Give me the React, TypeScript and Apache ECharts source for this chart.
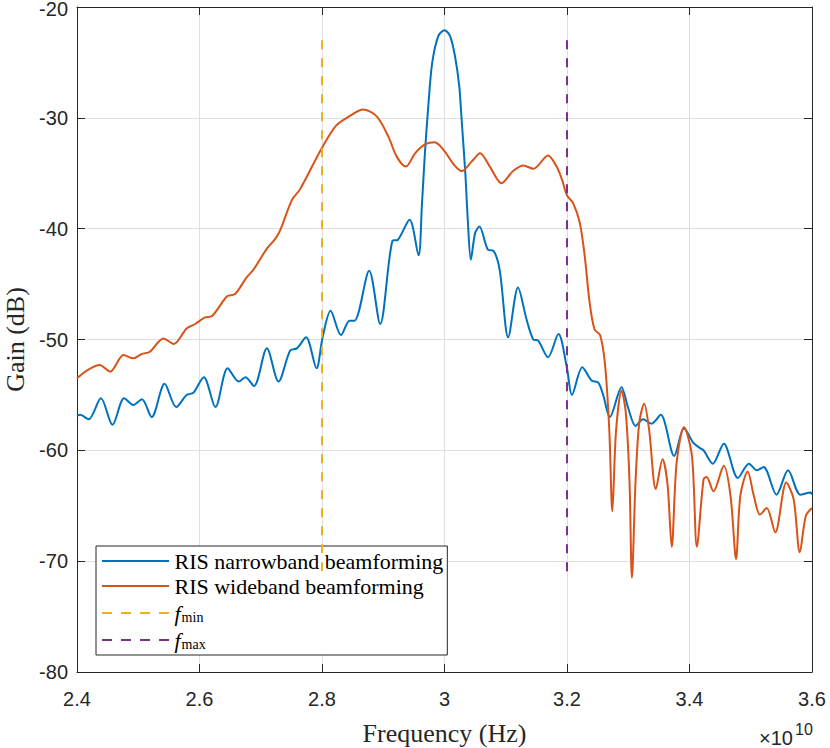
import React, { useEffect, useRef } from "react";
import * as echarts from "echarts";

// Frequencies in units of 1e9 Hz (axis shows them in units of 1e10)
const nbFreq = [
  24.0, 24.05, 24.19, 24.39, 24.58, 24.77, 24.92, 25.06, 25.22, 25.43, 25.62, 25.79, 25.9, 26.07, 26.26,
  26.46, 26.64, 26.75, 26.89, 27.1, 27.29, 27.48, 27.59, 27.74, 27.91, 28.01, 28.14, 28.31, 28.45, 28.53,
  28.77, 28.95, 29.15, 29.24, 29.43, 29.576, 29.63, 29.68, 29.74, 29.8, 29.9, 30.0, 30.09, 30.17, 30.24,
  30.28, 30.34, 30.38, 30.43, 30.5, 30.57, 30.71, 30.8, 30.9, 31.04, 31.2, 31.34, 31.45, 31.53, 31.69,
  31.86, 32.0, 32.08, 32.25, 32.4, 32.51, 32.59, 32.7, 32.89, 33.0, 33.12, 33.24, 33.38, 33.53, 33.75,
  33.91, 34.06, 34.17, 34.23, 34.38, 34.56, 34.79, 34.97, 35.1, 35.21, 35.42, 35.61, 35.81, 35.98, 36.0,
];
const nbGain = [
  -56.9, -56.8, -57.2, -55.3, -57.7, -55.3, -55.9, -55.4, -57.0, -54.0, -56.1, -55.0, -54.8, -53.4, -56.1,
  -52.6, -53.8, -53.4, -54.2, -50.8, -53.8, -51.0, -50.8, -49.8, -52.6, -49.8, -47.4, -49.6, -48.3, -48.3,
  -43.8, -48.6, -41.1, -41.0, -39.2, -42.4, -38.0, -33.2, -28.6, -25.0, -22.6, -22.1, -22.6, -24.4, -27.1,
  -30.2, -35.0, -39.2, -42.8, -40.4, -39.8, -41.9, -42.0, -43.7, -49.8, -45.3, -48.2, -50.0, -50.1, -51.6,
  -49.5, -52.6, -55.0, -52.5, -53.7, -53.9, -55.0, -57.0, -54.3, -56.2, -57.8, -57.2, -57.6, -56.8, -60.5,
  -58.0, -59.3, -59.8, -60.0, -61.2, -59.4, -62.5, -61.2, -61.8, -61.5, -64.0, -61.8, -64.0, -63.8, -64.0,
];

const wbFreq = [
  24.0, 24.16, 24.37, 24.54, 24.76, 24.92, 25.06, 25.19, 25.41, 25.58, 25.79, 25.93, 26.09, 26.2, 26.45,
  26.58, 26.77, 26.88, 27.1, 27.24, 27.32, 27.51, 27.635, 28.0, 28.23, 28.45, 28.67, 28.89, 29.08, 29.22,
  29.37, 29.52, 29.68, 29.84, 30.0, 30.15, 30.28, 30.45, 30.58, 30.74, 30.93, 31.12, 31.29, 31.45, 31.69,
  31.83, 31.92, 32.0, 32.1, 32.21, 32.29, 32.37, 32.45, 32.54, 32.62, 32.69, 32.74, 32.8, 32.89, 32.96,
  33.02, 33.06, 33.12, 33.18, 33.26, 33.34, 33.45, 33.56, 33.64, 33.71, 33.79, 33.91, 34.04, 34.12, 34.23,
  34.28, 34.39, 34.56, 34.67, 34.76, 34.83, 34.95, 35.05, 35.15, 35.26, 35.4, 35.58, 35.7, 35.8, 35.9, 36.0,
];
const wbGain = [
  -53.5, -52.8, -52.3, -52.9, -51.4, -51.7, -51.3, -51.1, -49.9, -50.4, -49.0, -48.6, -48.0, -47.9, -46.1,
  -45.9, -44.4, -43.7, -41.8, -40.9, -40.1, -37.4, -36.5, -32.7, -30.7, -29.85, -29.25, -29.85, -31.65, -33.5,
  -34.4, -33.2, -32.4, -32.2, -33.0, -34.2, -34.8, -33.9, -33.2, -34.4, -35.9, -34.8, -34.3, -34.6, -33.4,
  -34.4, -35.6, -37.0, -37.7, -39.5, -42.5, -46.7, -49.1, -49.6, -52.2, -58.1, -65.5, -58.3, -54.6, -56.6,
  -62.7, -71.5, -62.7, -57.5, -55.8, -58.1, -63.5, -60.8, -63.0, -68.7, -61.1, -57.9, -60.5, -68.7, -62.6,
  -62.4, -63.7, -61.4, -64.1, -69.8, -64.1, -61.9, -64.1, -65.8, -65.2, -67.4, -62.9, -64.4, -69.2, -65.9, -65.2,
];

const markerFreqs = [28, 32]; // f_min, f_max
const markerSpan = [-23.0, -71.5];

const xTicks = { min: 24, max: 36, interval: 2 };
const yTicks = { min: -80, max: -20, interval: 10 };

const seriesNames = ["RIS narrowband beamforming", "RIS wideband beamforming", "fmin", "fmax"];

const zip = (a: number[], b: number[]) => a.map((v, i) => [v, b[i]]);

const SOLID_ICON = "path://M0 0h67v2H0z";
const DASH_ICON = "path://M0 0h10v2H0z M19 0h10v2h-10z M38 0h10v2h-10z M57 0h10v2h-10z";

export default function App() {
  const ref = useRef<HTMLDivElement>(null);
  useEffect(() => {
    if (!ref.current) return;
    const chart = echarts.init(ref.current, null, { renderer: "svg" });
    const axisColor = "#262626";
    const tickFont = { fontFamily: "Liberation Sans", fontSize: 20, color: axisColor };
    const dashed = (name: string, f: number, color: string) => ({
      name,
      type: "line",
      data: [
        [f, markerSpan[0]],
        [f, markerSpan[1]],
      ],
      symbol: "none",
      lineStyle: { color, width: 2, type: [9, 9] },
      itemStyle: { color },
      z: 4,
    });
    chart.setOption({
      animation: false,
      backgroundColor: "#ffffff",
      grid: { left: 77, right: 18, top: 7, bottom: 76, containLabel: false, outerBoundsMode: "none" },
      xAxis: [
        {
          type: "value",
          ...xTicks,
          position: "bottom",
          axisLine: { show: true, onZero: false, lineStyle: { color: axisColor, width: 1 } },
          axisTick: { show: true, inside: true, length: 8, lineStyle: { color: axisColor } },
          axisLabel: { ...tickFont, margin: 17, formatter: (v: number) => String(v / 10) },
          splitLine: { show: true, lineStyle: { color: "#dfdfdf", width: 1 } },
          name: "Frequency (Hz)",
          nameLocation: "middle",
          nameGap: 48,
          nameTextStyle: { fontFamily: "Liberation Serif", fontSize: 26, color: axisColor },
        },
        {
          type: "value",
          ...xTicks,
          position: "top",
          axisLine: { show: true, onZero: false, lineStyle: { color: axisColor, width: 1 } },
          axisTick: { show: true, inside: true, length: 8, lineStyle: { color: axisColor } },
          axisLabel: { show: false },
          splitLine: { show: false },
        },
      ],
      yAxis: [
        {
          type: "value",
          ...yTicks,
          position: "left",
          axisLine: { show: true, onZero: false, lineStyle: { color: axisColor, width: 1 } },
          axisTick: { show: true, inside: true, length: 8, lineStyle: { color: axisColor } },
          axisLabel: {
            ...tickFont,
            margin: 9,
            lineHeight: 14,
            formatter: (v: number) => (v === yTicks.max ? "{t|" + v + "}" : String(v)),
            rich: {
              t: { ...tickFont, lineHeight: 14, padding: [4, 0, 0, 0] },
            },
          },
          splitLine: { show: true, lineStyle: { color: "#dfdfdf", width: 1 } },
          name: "Gain (dB)",
          nameLocation: "middle",
          nameGap: 51,
          nameTextStyle: { fontFamily: "Liberation Serif", fontSize: 26, lineHeight: 22, color: axisColor },
        },
        {
          type: "value",
          ...yTicks,
          position: "right",
          axisLine: { show: true, onZero: false, lineStyle: { color: axisColor, width: 1 } },
          axisTick: { show: true, inside: true, length: 8, lineStyle: { color: axisColor } },
          axisLabel: { show: false },
          splitLine: { show: false },
        },
      ],
      legend: {
        data: [
          { name: seriesNames[0], icon: SOLID_ICON },
          { name: seriesNames[1], icon: SOLID_ICON },
          { name: seriesNames[2], icon: DASH_ICON },
          { name: seriesNames[3], icon: DASH_ICON },
        ],
        orient: "vertical",
        left: 96,
        top: 546,
        itemWidth: 68,
        itemHeight: 2,
        itemGap: 3,
        padding: [4, 4, 4, 6],
        backgroundColor: "#ffffff",
        borderColor: axisColor,
        borderWidth: 1,
        borderRadius: 0,
        selectedMode: false,
        formatter: (name: string) =>
          name === "fmin" ? "{it|f}{sub|min}" : name === "fmax" ? "{it|f}{sub|max}" : name,
        textStyle: {
          fontFamily: "Liberation Serif",
          fontSize: 22,
          color: "#000000",
          rich: {
            it: { fontFamily: "Liberation Serif", fontSize: 22, fontStyle: "italic", color: "#000000" },
            sub: {
              fontFamily: "Liberation Serif",
              fontSize: 14,
              color: "#000000",
              verticalAlign: "bottom",
              lineHeight: 14,
              padding: [10, 0, 0, 1],
            },
          },
        },
      },
      graphic: [
        {
          type: "text",
          x: 793,
          y: 738,
          style: {
            text: "×10",
            fontFamily: "Liberation Sans",
            fontSize: 20,
            fill: axisColor,
            align: "right",
            verticalAlign: "middle",
          },
        },
        {
          type: "text",
          x: 795,
          y: 729,
          style: {
            text: "10",
            fontFamily: "Liberation Sans",
            fontSize: 16,
            fill: axisColor,
            align: "left",
            verticalAlign: "middle",
          },
        },
      ],
      series: [
        {
          name: seriesNames[0],
          type: "line",
          data: zip(nbFreq, nbGain),
          symbol: "none",
          smooth: 0.3,
          lineStyle: { color: "#0072BD", width: 2 },
          itemStyle: { color: "#0072BD" },
          z: 2,
        },
        {
          name: seriesNames[1],
          type: "line",
          data: zip(wbFreq, wbGain),
          symbol: "none",
          smooth: 0.3,
          lineStyle: { color: "#D95319", width: 2 },
          itemStyle: { color: "#D95319" },
          z: 3,
        },
        dashed(seriesNames[2], markerFreqs[0], "#EDB120"),
        dashed(seriesNames[3], markerFreqs[1], "#7E2F8E"),
      ],
    });
    return () => chart.dispose();
  }, []);
  return <div ref={ref} style={{ position: "absolute", left: 0, top: 0, width: 830, height: 748 }} />;
}
